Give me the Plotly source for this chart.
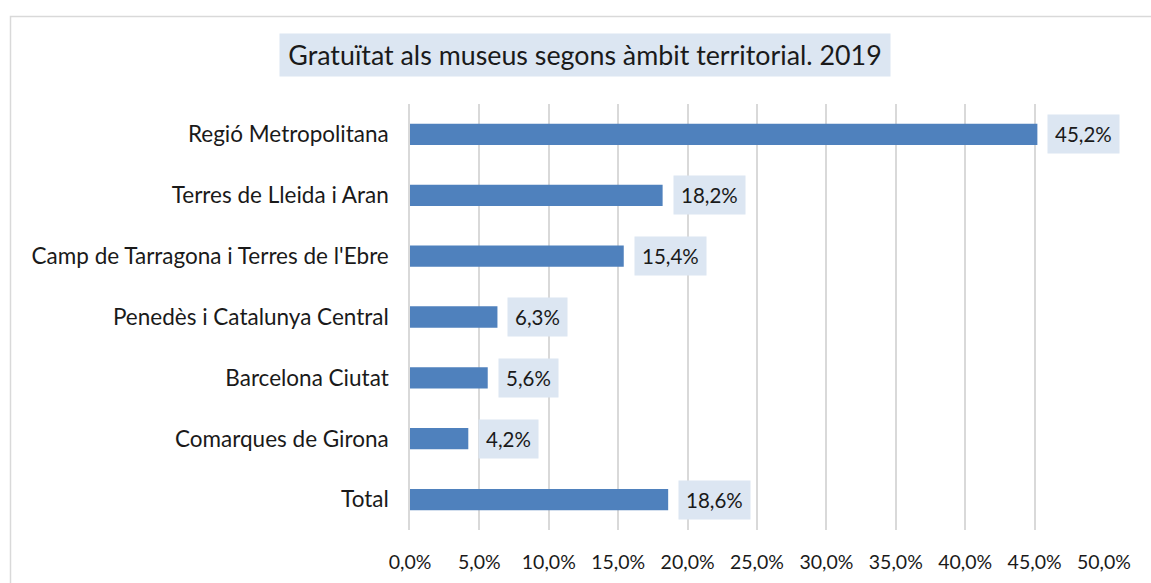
import plotly.graph_objects as go

categories = ["Regió Metropolitana", "Terres de Lleida i Aran",
              "Camp de Tarragona i Terres de l'Ebre", "Penedès i Catalunya Central",
              "Barcelona Ciutat", "Comarques de Girona", "Total"]
values = [45.2, 18.2, 15.4, 6.3, 5.6, 4.2, 18.6]
tick_vals = [0, 5, 10, 15, 20, 25, 30, 35, 40, 45, 50]
tick_text = ["0,0%", "5,0%", "10,0%", "15,0%", "20,0%", "25,0%", "30,0%",
             "35,0%", "40,0%", "45,0%", "50,0%"]
title_text = "Gratuïtat als museus segons àmbit territorial. 2019"

FONT = "Lato"
TXT = "#1a1a1a"
BOX = "#DCE6F2"

fig = go.Figure(go.Bar(
    x=values, y=categories, orientation="h",
    marker=dict(color="#4F81BD", line=dict(width=0)),
    width=0.35, hoverinfo="skip",
))

W, H = 1151, 583
L, R, T, B = 410, 47, 104, 53
pw, ph = W - L - R, H - T - B

def px2x(px):
    return (px - L) / pw

def py2y(py):
    return (H - B - py) / ph

annotations = []
for c, v in zip(categories, values):
    annotations.append(dict(
        x=v, y=c, xref="x", yref="y", text=f"{v:.1f}%".replace(".", ","),
        showarrow=False, xanchor="left", yanchor="middle", xshift=10,
        bgcolor=BOX, borderpad=7, font=dict(family=FONT, size=20.5, color=TXT),
    ))

annotations.append(dict(
    x=px2x(585), y=py2y(55), xref="paper", yref="paper", text=title_text,
    showarrow=False, xanchor="center", yanchor="middle",
    bgcolor=BOX, borderpad=4, width=602, height=34,
    font=dict(family=FONT, size=26.8, color=TXT),
))

fig.update_layout(
    width=W, height=H,
    margin=dict(l=L, r=R, t=T, b=B, autoexpand=False),
    paper_bgcolor="white", plot_bgcolor="white",
    showlegend=False,
    annotations=annotations,
    shapes=[dict(type="rect", xref="paper", yref="paper",
                 x0=px2x(10.5), x1=px2x(1170), y0=py2y(600), y1=py2y(16.5),
                 line=dict(color="#D9D9D9", width=1.5), fillcolor="rgba(0,0,0,0)",
                 layer="below")],
    xaxis=dict(range=[0, 50], tickvals=tick_vals, ticktext=tick_text,
               showgrid=True, gridcolor="#D9D9D9", gridwidth=1.5,
               zeroline=False, showline=False, automargin=False,
               ticks="outside", ticklen=15, tickcolor="rgba(0,0,0,0)",
               tickfont=dict(family=FONT, size=19.5, color=TXT), fixedrange=True),
    yaxis=dict(categoryorder="array", categoryarray=categories, autorange="reversed",
               showgrid=False, zeroline=False, showline=True, linecolor="#D9D9D9", linewidth=1.5,
               automargin=False,
               ticks="outside", ticklen=15, tickcolor="rgba(0,0,0,0)",
               tickfont=dict(family=FONT, size=22.5, color=TXT), fixedrange=True),
)

fig.write_html("out.html", config={"displayModeBar": False},
               post_script="document.body.style.margin='0';")
